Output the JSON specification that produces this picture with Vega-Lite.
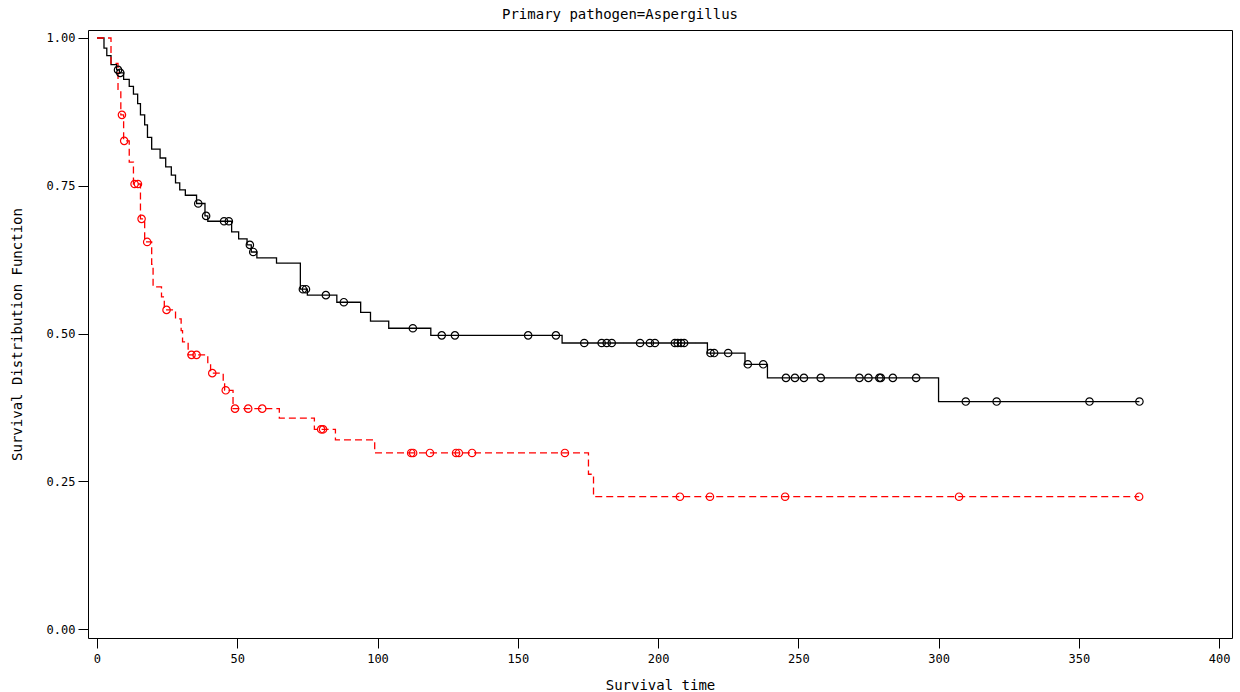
{
  "$schema": "https://vega.github.io/schema/vega-lite/v6.json",
  "autosize": {"type": "none"},
  "width": 1144,
  "height": 608,
  "padding": {"left": 88, "top": 30, "right": 8, "bottom": 54},
  "background": "white",
  "title": {"text": "Primary pathogen=Aspergillus", "font": "DejaVu Sans Mono", "fontSize": 14, "fontWeight": "normal", "color": "black", "offset": 8, "dx": -40},
  "config": {
    "view": {"stroke": "black", "strokeWidth": 1},
    "axis": {"grid": false, "domain": false, "tickColor": "black", "tickSize": 10, "labelColor": "black", "titleColor": "black", "labelFont": "DejaVu Sans Mono", "labelFontSize": 12, "titleFont": "DejaVu Sans Mono", "titleFontSize": 14, "titleFontWeight": "normal"}
  },
  "data": {"values": [
    {"stratum": "1", "time": 0, "survival": 1, "censored": 0},
    {"stratum": "1", "time": 2.5, "survival": 0.983, "censored": 0},
    {"stratum": "1", "time": 3.5, "survival": 0.97, "censored": 0},
    {"stratum": "1", "time": 5, "survival": 0.955, "censored": 0},
    {"stratum": "1", "time": 7, "survival": 0.946, "censored": 0},
    {"stratum": "1", "time": 7.5, "survival": 0.946, "censored": 1},
    {"stratum": "1", "time": 8, "survival": 0.941, "censored": 0},
    {"stratum": "1", "time": 8.3, "survival": 0.941, "censored": 1},
    {"stratum": "1", "time": 9.5, "survival": 0.93, "censored": 0},
    {"stratum": "1", "time": 11.5, "survival": 0.918, "censored": 0},
    {"stratum": "1", "time": 13, "survival": 0.905, "censored": 0},
    {"stratum": "1", "time": 14.5, "survival": 0.889, "censored": 0},
    {"stratum": "1", "time": 15.5, "survival": 0.87, "censored": 0},
    {"stratum": "1", "time": 17, "survival": 0.853, "censored": 0},
    {"stratum": "1", "time": 18, "survival": 0.832, "censored": 0},
    {"stratum": "1", "time": 19.5, "survival": 0.812, "censored": 0},
    {"stratum": "1", "time": 22.5, "survival": 0.797, "censored": 0},
    {"stratum": "1", "time": 24.5, "survival": 0.782, "censored": 0},
    {"stratum": "1", "time": 26.5, "survival": 0.768, "censored": 0},
    {"stratum": "1", "time": 28, "survival": 0.755, "censored": 0},
    {"stratum": "1", "time": 29.5, "survival": 0.743, "censored": 0},
    {"stratum": "1", "time": 31.5, "survival": 0.734, "censored": 0},
    {"stratum": "1", "time": 35.5, "survival": 0.72, "censored": 0},
    {"stratum": "1", "time": 36.1, "survival": 0.72, "censored": 1},
    {"stratum": "1", "time": 38.5, "survival": 0.699, "censored": 0},
    {"stratum": "1", "time": 38.9, "survival": 0.699, "censored": 1},
    {"stratum": "1", "time": 39.5, "survival": 0.69, "censored": 0},
    {"stratum": "1", "time": 45.3, "survival": 0.69, "censored": 1},
    {"stratum": "1", "time": 47, "survival": 0.69, "censored": 1},
    {"stratum": "1", "time": 48, "survival": 0.672, "censored": 0},
    {"stratum": "1", "time": 50.5, "survival": 0.66, "censored": 0},
    {"stratum": "1", "time": 53.5, "survival": 0.65, "censored": 0},
    {"stratum": "1", "time": 54.5, "survival": 0.65, "censored": 1},
    {"stratum": "1", "time": 55, "survival": 0.638, "censored": 0},
    {"stratum": "1", "time": 55.7, "survival": 0.638, "censored": 1},
    {"stratum": "1", "time": 57, "survival": 0.628, "censored": 0},
    {"stratum": "1", "time": 64, "survival": 0.619, "censored": 0},
    {"stratum": "1", "time": 72.5, "survival": 0.575, "censored": 0},
    {"stratum": "1", "time": 73.4, "survival": 0.575, "censored": 1},
    {"stratum": "1", "time": 74.5, "survival": 0.575, "censored": 1},
    {"stratum": "1", "time": 75, "survival": 0.565, "censored": 0},
    {"stratum": "1", "time": 81.6, "survival": 0.565, "censored": 1},
    {"stratum": "1", "time": 85.5, "survival": 0.553, "censored": 0},
    {"stratum": "1", "time": 88, "survival": 0.553, "censored": 1},
    {"stratum": "1", "time": 94, "survival": 0.536, "censored": 0},
    {"stratum": "1", "time": 97.5, "survival": 0.521, "censored": 0},
    {"stratum": "1", "time": 104, "survival": 0.509, "censored": 0},
    {"stratum": "1", "time": 112.6, "survival": 0.509, "censored": 1},
    {"stratum": "1", "time": 119, "survival": 0.497, "censored": 0},
    {"stratum": "1", "time": 122.9, "survival": 0.497, "censored": 1},
    {"stratum": "1", "time": 127.6, "survival": 0.497, "censored": 1},
    {"stratum": "1", "time": 153.7, "survival": 0.497, "censored": 1},
    {"stratum": "1", "time": 163.6, "survival": 0.497, "censored": 1},
    {"stratum": "1", "time": 165.8, "survival": 0.484, "censored": 0},
    {"stratum": "1", "time": 173.7, "survival": 0.484, "censored": 1},
    {"stratum": "1", "time": 179.9, "survival": 0.484, "censored": 1},
    {"stratum": "1", "time": 181.7, "survival": 0.484, "censored": 1},
    {"stratum": "1", "time": 183.5, "survival": 0.484, "censored": 1},
    {"stratum": "1", "time": 193.6, "survival": 0.484, "censored": 1},
    {"stratum": "1", "time": 197.1, "survival": 0.484, "censored": 1},
    {"stratum": "1", "time": 198.9, "survival": 0.484, "censored": 1},
    {"stratum": "1", "time": 206, "survival": 0.484, "censored": 1},
    {"stratum": "1", "time": 207, "survival": 0.484, "censored": 1},
    {"stratum": "1", "time": 208.2, "survival": 0.484, "censored": 1},
    {"stratum": "1", "time": 209.3, "survival": 0.484, "censored": 1},
    {"stratum": "1", "time": 217.6, "survival": 0.467, "censored": 0},
    {"stratum": "1", "time": 218.7, "survival": 0.467, "censored": 1},
    {"stratum": "1", "time": 220, "survival": 0.467, "censored": 1},
    {"stratum": "1", "time": 225, "survival": 0.467, "censored": 1},
    {"stratum": "1", "time": 231, "survival": 0.448, "censored": 0},
    {"stratum": "1", "time": 232, "survival": 0.448, "censored": 1},
    {"stratum": "1", "time": 237.5, "survival": 0.448, "censored": 1},
    {"stratum": "1", "time": 239, "survival": 0.425, "censored": 0},
    {"stratum": "1", "time": 245.6, "survival": 0.425, "censored": 1},
    {"stratum": "1", "time": 248.8, "survival": 0.425, "censored": 1},
    {"stratum": "1", "time": 252, "survival": 0.425, "censored": 1},
    {"stratum": "1", "time": 258, "survival": 0.425, "censored": 1},
    {"stratum": "1", "time": 271.8, "survival": 0.425, "censored": 1},
    {"stratum": "1", "time": 275, "survival": 0.425, "censored": 1},
    {"stratum": "1", "time": 278.9, "survival": 0.425, "censored": 1},
    {"stratum": "1", "time": 279.4, "survival": 0.425, "censored": 1},
    {"stratum": "1", "time": 283.7, "survival": 0.425, "censored": 1},
    {"stratum": "1", "time": 292, "survival": 0.425, "censored": 1},
    {"stratum": "1", "time": 300, "survival": 0.385, "censored": 0},
    {"stratum": "1", "time": 309.7, "survival": 0.385, "censored": 1},
    {"stratum": "1", "time": 320.7, "survival": 0.385, "censored": 1},
    {"stratum": "1", "time": 353.8, "survival": 0.385, "censored": 1},
    {"stratum": "1", "time": 371.6, "survival": 0.385, "censored": 1},
    {"stratum": "2", "time": 0, "survival": 1, "censored": 0},
    {"stratum": "2", "time": 5, "survival": 0.957, "censored": 0},
    {"stratum": "2", "time": 7.5, "survival": 0.913, "censored": 0},
    {"stratum": "2", "time": 8.5, "survival": 0.87, "censored": 0},
    {"stratum": "2", "time": 8.9, "survival": 0.87, "censored": 1},
    {"stratum": "2", "time": 9.5, "survival": 0.826, "censored": 0},
    {"stratum": "2", "time": 9.7, "survival": 0.826, "censored": 1},
    {"stratum": "2", "time": 11.5, "survival": 0.79, "censored": 0},
    {"stratum": "2", "time": 13, "survival": 0.753, "censored": 0},
    {"stratum": "2", "time": 13.4, "survival": 0.753, "censored": 1},
    {"stratum": "2", "time": 14.6, "survival": 0.753, "censored": 1},
    {"stratum": "2", "time": 15.5, "survival": 0.694, "censored": 0},
    {"stratum": "2", "time": 15.9, "survival": 0.694, "censored": 1},
    {"stratum": "2", "time": 17, "survival": 0.655, "censored": 0},
    {"stratum": "2", "time": 17.9, "survival": 0.655, "censored": 1},
    {"stratum": "2", "time": 19.5, "survival": 0.617, "censored": 0},
    {"stratum": "2", "time": 20, "survival": 0.579, "censored": 0},
    {"stratum": "2", "time": 23, "survival": 0.562, "censored": 0},
    {"stratum": "2", "time": 24, "survival": 0.54, "censored": 0},
    {"stratum": "2", "time": 24.8, "survival": 0.54, "censored": 1},
    {"stratum": "2", "time": 28, "survival": 0.525, "censored": 0},
    {"stratum": "2", "time": 30, "survival": 0.505, "censored": 0},
    {"stratum": "2", "time": 30.5, "survival": 0.486, "censored": 0},
    {"stratum": "2", "time": 32.5, "survival": 0.464, "censored": 0},
    {"stratum": "2", "time": 33.7, "survival": 0.464, "censored": 1},
    {"stratum": "2", "time": 35.5, "survival": 0.464, "censored": 1},
    {"stratum": "2", "time": 39.5, "survival": 0.448, "censored": 0},
    {"stratum": "2", "time": 40.5, "survival": 0.433, "censored": 0},
    {"stratum": "2", "time": 41.1, "survival": 0.433, "censored": 1},
    {"stratum": "2", "time": 45, "survival": 0.419, "censored": 0},
    {"stratum": "2", "time": 45.5, "survival": 0.404, "censored": 0},
    {"stratum": "2", "time": 45.9, "survival": 0.404, "censored": 1},
    {"stratum": "2", "time": 48.5, "survival": 0.373, "censored": 0},
    {"stratum": "2", "time": 49.2, "survival": 0.373, "censored": 1},
    {"stratum": "2", "time": 53.9, "survival": 0.373, "censored": 1},
    {"stratum": "2", "time": 58.9, "survival": 0.373, "censored": 1},
    {"stratum": "2", "time": 65, "survival": 0.357, "censored": 0},
    {"stratum": "2", "time": 77.5, "survival": 0.338, "censored": 0},
    {"stratum": "2", "time": 79.9, "survival": 0.338, "censored": 1},
    {"stratum": "2", "time": 80.6, "survival": 0.338, "censored": 1},
    {"stratum": "2", "time": 85, "survival": 0.32, "censored": 0},
    {"stratum": "2", "time": 99, "survival": 0.298, "censored": 0},
    {"stratum": "2", "time": 112, "survival": 0.298, "censored": 1},
    {"stratum": "2", "time": 112.7, "survival": 0.298, "censored": 1},
    {"stratum": "2", "time": 118.7, "survival": 0.298, "censored": 1},
    {"stratum": "2", "time": 128, "survival": 0.298, "censored": 1},
    {"stratum": "2", "time": 129, "survival": 0.298, "censored": 1},
    {"stratum": "2", "time": 133.7, "survival": 0.298, "censored": 1},
    {"stratum": "2", "time": 166.8, "survival": 0.298, "censored": 1},
    {"stratum": "2", "time": 175.2, "survival": 0.262, "censored": 0},
    {"stratum": "2", "time": 177, "survival": 0.224, "censored": 0},
    {"stratum": "2", "time": 207.8, "survival": 0.224, "censored": 1},
    {"stratum": "2", "time": 218.5, "survival": 0.224, "censored": 1},
    {"stratum": "2", "time": 245.3, "survival": 0.224, "censored": 1},
    {"stratum": "2", "time": 307.3, "survival": 0.224, "censored": 1},
    {"stratum": "2", "time": 371.5, "survival": 0.224, "censored": 1}
  ]},
  "encoding": {
    "x": {"field": "time", "type": "quantitative", "title": "Survival time",
      "scale": {"domain": [-3.2, 404.6], "nice": false, "zero": false},
      "axis": {"values": [0, 50, 100, 150, 200, 250, 300, 350, 400], "format": "d", "labelPadding": 5, "titlePadding": 14}},
    "y": {"field": "survival", "type": "quantitative", "title": "Survival Distribution Function",
      "scale": {"domain": [-0.015, 1.0135], "nice": false, "zero": false},
      "axis": {"values": [0, 0.25, 0.5, 0.75, 1], "format": ".2f", "labelPadding": 3, "titlePadding": 22}},
    "color": {"field": "stratum", "type": "nominal", "scale": {"domain": ["1", "2"], "range": ["#000000", "#ff0000"]}, "legend": null}
  },
  "layer": [
    {
      "mark": {"type": "line", "interpolate": "step-after", "strokeWidth": 1.3},
      "encoding": {
        "strokeDash": {"field": "stratum", "type": "nominal", "scale": {"domain": ["1", "2"], "range": [[1, 0], [7, 4]]}, "legend": null}
      }
    },
    {
      "transform": [{"filter": "datum.censored == 1"}],
      "mark": {"type": "point", "shape": "circle", "filled": false, "size": 55, "strokeWidth": 1.2, "opacity": 1}
    }
  ]
}
